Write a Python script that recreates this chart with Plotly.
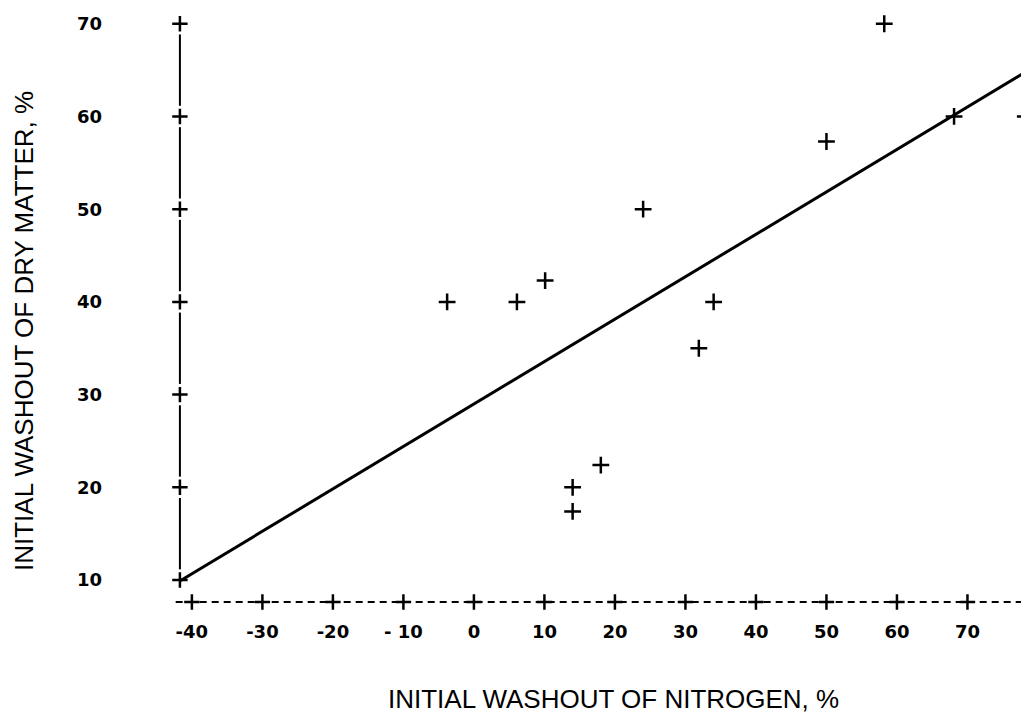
import plotly.graph_objects as go

# ---- data ----
nitrogen = [-3.8, 6.1, 10.1, 14.0, 14.0, 18.0, 24.0, 31.9, 34.0, 50.0, 58.2, 68.1, 78.2]
dry_matter = [40.0, 40.0, 42.3, 20.0, 17.4, 22.4, 50.0, 35.0, 40.0, 57.3, 70.0, 60.0, 60.0]

fit_x = [-41.7, 80.0]
fit_y = [9.9, 65.6]

x_ticks = [-40, -30, -20, -10, 0, 10, 20, 30, 40, 50, 60, 70]
x_tick_text = ["-40", "-30", "-20", "- 10", "0", "10", "20", "30", "40", "50", "60", "70"]
y_ticks = [10, 20, 30, 40, 50, 60, 70]
y_tick_text = ["10", "20", "30", "40", "50", "60", "70"]

y_axis_x = -41.7      # position of the drawn vertical axis
x_axis_y = 7.63       # position of the drawn dashed horizontal axis
x_axis_start = -42.3
x_axis_end = 82.0
tick_gap = 1.15       # gap left around each "+" on the vertical axis

# ---- build figure ----
fig = go.Figure()

# vertical axis: solid segments broken at each tick
seg_x, seg_y = [], []
for a, b in zip(y_ticks[:-1], y_ticks[1:]):
    seg_x += [y_axis_x, y_axis_x, None]
    seg_y += [a + tick_gap, b - tick_gap, None]
fig.add_trace(go.Scatter(x=seg_x, y=seg_y, mode="lines",
                         line=dict(color="black", width=2), hoverinfo="skip"))
fig.add_trace(go.Scatter(x=[y_axis_x] * len(y_ticks), y=y_ticks, mode="markers",
                         marker=dict(symbol="cross-thin", size=11,
                                     line=dict(color="black", width=2.5)),
                         cliponaxis=False, hoverinfo="skip"))

# horizontal dashed axis with "+" at ticks
fig.add_trace(go.Scatter(x=[x_axis_start, x_axis_end], y=[x_axis_y, x_axis_y], mode="lines",
                         line=dict(color="black", width=2, dash="7px,5px"), hoverinfo="skip"))
fig.add_trace(go.Scatter(x=x_ticks, y=[x_axis_y] * len(x_ticks), mode="markers",
                         marker=dict(symbol="cross-thin", size=11,
                                     line=dict(color="black", width=2.5)),
                         hoverinfo="skip"))

# regression line
fig.add_trace(go.Scatter(x=fit_x, y=fit_y, mode="lines",
                         line=dict(color="black", width=3)))

# data points
fig.add_trace(go.Scatter(x=nitrogen, y=dry_matter, mode="markers",
                         marker=dict(symbol="cross-thin", size=12,
                                     line=dict(color="black", width=2.5))))

W, H = 1022, 714
L, R, T, B = 143, 0, 0, 111
PW, PH = W - L - R, H - B - T
fig.update_layout(
    width=W, height=H,
    margin=dict(l=L, r=R, t=T, b=B),
    paper_bgcolor="white", plot_bgcolor="white",
    showlegend=False,
    xaxis=dict(range=[-45.8, 78.87], showgrid=False, zeroline=False, showline=False,
               tickmode="array", tickvals=x_ticks, ticktext=x_tick_text,
               ticks="", ticklabelstandoff=8,
               tickfont=dict(family="DejaVu Sans", size=18, color="black", weight="bold")),
    yaxis=dict(range=[6.66, 71.7], showgrid=False, zeroline=False, showline=False,
               tickmode="array", tickvals=y_ticks, ticktext=y_tick_text,
               ticks="", ticklabelstandoff=48,
               tickfont=dict(family="DejaVu Sans", size=18, color="black", weight="bold")),
    annotations=[
        dict(text="INITIAL WASHOUT OF NITROGEN, %", xref="paper", yref="paper",
             x=(605 - L) / PW, y=(PH - 691) / PH,
             showarrow=False, xanchor="center", yanchor="middle",
             font=dict(family="Liberation Sans", size=26, color="black")),
        dict(text="INITIAL WASHOUT OF DRY MATTER, %", xref="paper", yref="paper",
             x=(16 - L) / PW, y=(PH - 323) / PH,
             showarrow=False, xanchor="center", yanchor="middle", textangle=-90,
             font=dict(family="Liberation Sans", size=26, color="black")),
    ],
)

fig.write_html("out.html")
